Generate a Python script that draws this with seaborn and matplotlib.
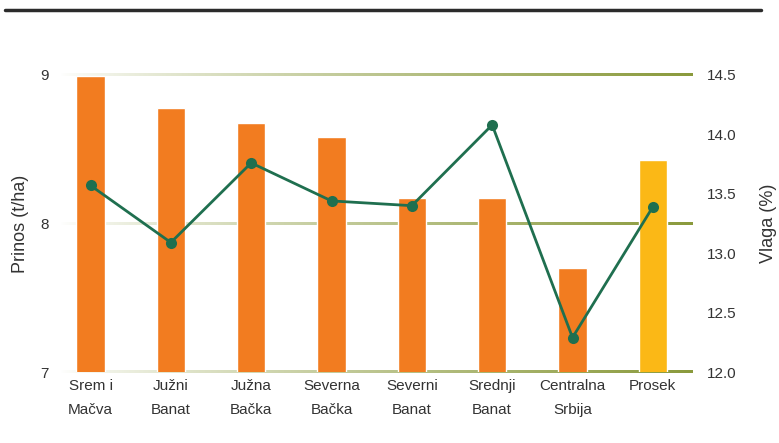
import numpy as np
import pandas as pd
import matplotlib
matplotlib.use("Agg")
import matplotlib.pyplot as plt
from matplotlib.lines import Line2D
import matplotlib.colors as mcolors
import seaborn as sns

regions = ["Srem i\nMačva", "Južni\nBanat", "Južna\nBačka", "Severna\nBačka",
           "Severni\nBanat", "Srednji\nBanat", "Centralna\nSrbija", "Prosek"]
prinos = [8.99, 8.78, 8.68, 8.58, 8.17, 8.17, 7.70, 8.43]
vlaga = [13.57, 13.09, 13.76, 13.44, 13.40, 14.08, 12.29, 13.39]
left_ticks = [7, 8, 9]
right_ticks = [12.0, 12.5, 13.0, 13.5, 14.0, 14.5]

ORANGE = "#F27C20"
GOLD = "#FBB816"
GREEN = "#1F6F4F"
OLIVE = np.array(mcolors.to_rgb("#8A9A3C"))
TEXT = "#333333"

sns.set_theme(style="white")
plt.rcParams['font.family'] = ['Liberation Sans', 'DejaVu Sans']

df = pd.DataFrame({"region": regions, "prinos": prinos, "vlaga": vlaga})
df["pos"] = np.arange(len(df))
palette = [ORANGE] * (len(regions) - 1) + [GOLD]

fig = plt.figure(figsize=(7.79, 4.43), dpi=100)
ax = fig.add_axes([60 / 779, 71 / 443, (693 - 60) / 779, (372 - 75) / 443])

sns.barplot(data=df, x="region", y="prinos", hue="region", palette=palette,
            legend=False, width=0.35, ax=ax, zorder=3, saturation=1)

# gradient gridlines as images
x0, x1 = -0.38, 7.5
t = np.linspace(0, 1, 400) ** 0.8
grad = (1 - t)[:, None] * np.ones(3)[None, :] + t[:, None] * OLIVE[None, :]
grad = grad[None, :, :]
half = 0.0085
for yv in left_ticks:
    ax.imshow(grad, extent=[x0, x1, yv - half, yv + half], aspect="auto",
              zorder=1, interpolation="bilinear", clip_on=False)

ax.set_ylim(7, 9)
ax.set_xlim(x0, x1)
ax.set_yticks(left_ticks)
ax.set_yticklabels([str(v) for v in left_ticks])
ax.tick_params(axis="y", length=0, pad=8, labelsize=11, labelcolor=TEXT)
ax.tick_params(axis="x", length=0, pad=5, labelsize=11, labelcolor=TEXT)
for lab in ax.get_xticklabels():
    lab.set_linespacing(1.95)
ax.set_xlabel("")
ax.set_ylabel("Prinos (t/ha)", fontsize=13, color=TEXT, labelpad=8)
for s in ax.spines.values():
    s.set_visible(False)

ax2 = ax.twinx()
sns.lineplot(data=df, x="pos", y="vlaga", color=GREEN, linewidth=2.0,
             marker="o", markersize=8, markeredgewidth=0, ax=ax2, zorder=5)
ax2.set_ylim(12.0, 14.5)
ax2.set_xlim(x0, x1)
ax2.set_yticks(right_ticks)
ax2.set_yticklabels([f"{v:.1f}" for v in right_ticks])
ax2.tick_params(axis="y", length=0, pad=10, labelsize=11, labelcolor=TEXT)
ax2.set_ylabel("Vlaga (%)", fontsize=13, color=TEXT, labelpad=17)
ax2.set_xlabel("")
for s in ax2.spines.values():
    s.set_visible(False)

fig.add_artist(Line2D([5 / 779, 761 / 779], [1 - 10 / 443, 1 - 10 / 443],
                      color="#2b2b2b", linewidth=2.5, transform=fig.transFigure))

fig.savefig("out.png", dpi=100, facecolor="white")
